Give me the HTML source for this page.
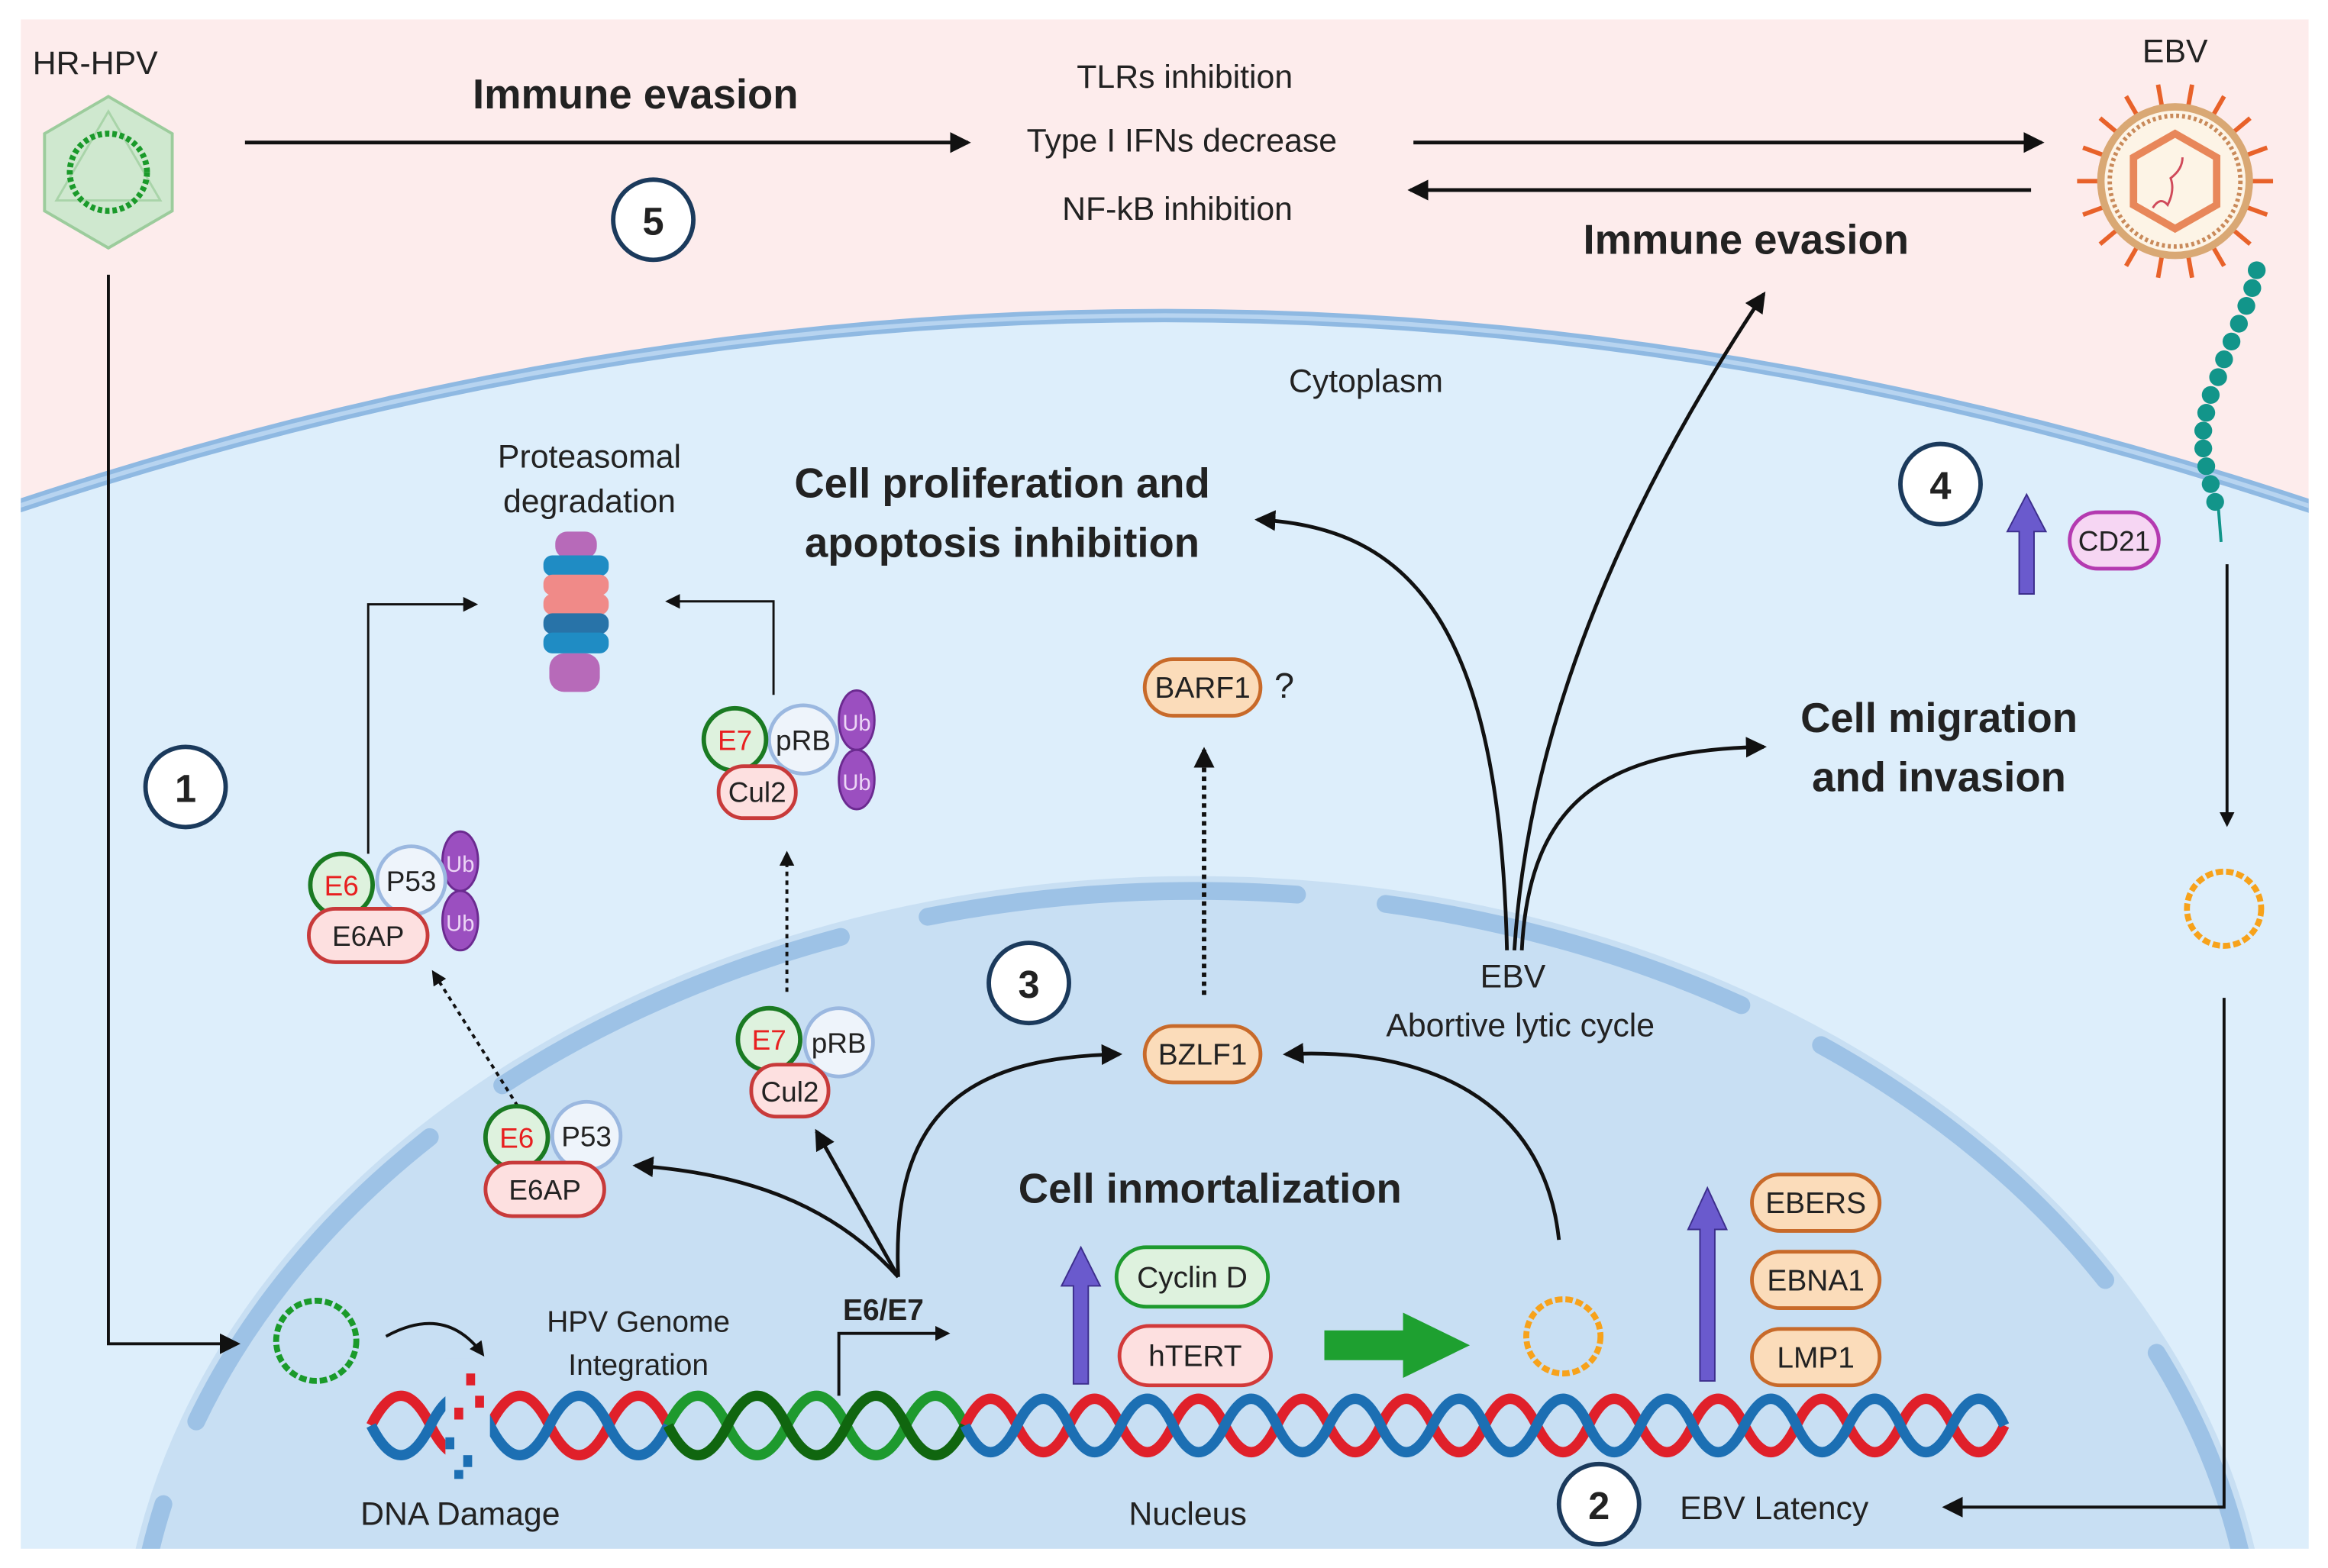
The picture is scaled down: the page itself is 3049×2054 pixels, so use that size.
<!DOCTYPE html>
<html><head><meta charset="utf-8"><style>
html,body{margin:0;padding:0;background:#fff;width:3049px;height:2054px;overflow:hidden}
svg{display:block}
text{font-family:"Liberation Sans",sans-serif;fill:#222}
.b{font-weight:bold}
</style></head><body>
<svg width="3049" height="2054" viewBox="0 0 1568 1056" preserveAspectRatio="none" xmlns="http://www.w3.org/2000/svg">
<defs>
<marker id="ah" markerWidth="10" markerHeight="10" refX="8" refY="5" orient="auto" markerUnits="userSpaceOnUse" viewBox="0 0 10 10"><path d="M0,0 L10,5 L0,10 z" fill="#111"/></marker>
<marker id="ahs" markerWidth="14" markerHeight="14" refX="12" refY="7" orient="auto" markerUnits="userSpaceOnUse" viewBox="0 0 14 14"><path d="M0,0 L14,7 L0,14 z" fill="#111"/></marker>
<clipPath id="cl"><rect x="14" y="13" width="1541" height="1030"/></clipPath>
</defs>
<rect width="1568" height="1056" fill="#fff"/>
<g clip-path="url(#cl)">
<rect x="14" y="13" width="1541" height="1030" fill="#fdecec"/>
<path d="M0,345 Q785,80 1568,345 L1568,1056 L0,1056 z" fill="#ddeefb"/>
<path d="M0,345 Q785,80 1568,345" fill="none" stroke="#8fb9e2" stroke-width="9"/>
<path d="M0,345 Q785,80 1568,345" fill="none" stroke="#b7d4f0" stroke-width="3"/>
<ellipse cx="805" cy="1140" rx="725" ry="550" fill="#c8dff3"/>
<ellipse cx="805" cy="1140" rx="715" ry="540" fill="none" stroke="#9dc2e6" stroke-width="12" stroke-linecap="round" stroke-dasharray="250 60"/>
</g>
<text x="22" y="50" font-size="22">HR-HPV</text>
<polygon points="73,65 116,90 116,142 73,167 30,142 30,90" fill="#cfe8cf" stroke="#9ccc9c" stroke-width="2"/>
<polygon points="73,75 108,135 38,135" fill="none" stroke="#a9d4a9" stroke-width="1.5"/>
<circle cx="73" cy="116" r="26" fill="none" stroke="#1a9a2a" stroke-width="4" stroke-dasharray="3 2"/>
<text x="428" y="73" font-size="28" class="b" text-anchor="middle">Immune evasion</text>
<line x1="165" y1="96" x2="652" y2="96" stroke="#111" stroke-width="2.5" marker-end="url(#ahs)"/>
<text x="798" y="59" font-size="22" text-anchor="middle">TLRs inhibition</text>
<text x="796" y="102" font-size="22" text-anchor="middle">Type I IFNs decrease</text>
<text x="793" y="148" font-size="22" text-anchor="middle">NF-kB inhibition</text>
<line x1="952" y1="96" x2="1375" y2="96" stroke="#111" stroke-width="2.5" marker-end="url(#ahs)"/>
<line x1="1368" y1="128" x2="950" y2="128" stroke="#111" stroke-width="2.5" marker-end="url(#ahs)"/>
<text x="1176" y="171" font-size="28" class="b" text-anchor="middle">Immune evasion</text>
<circle cx="440" cy="148" r="27" fill="#fff" stroke="#1b3a5c" stroke-width="3"/>
<text x="440" y="158" font-size="26" class="b" text-anchor="middle">5</text>
<text x="1465" y="42" font-size="22" text-anchor="middle">EBV</text>
<g transform="translate(1465,122)">
<g stroke="#e8622a" stroke-width="3">
<line x1="0" y1="0" x2="0" y2="-66" transform="rotate(10)"/><line x1="0" y1="0" x2="0" y2="-66" transform="rotate(30)"/><line x1="0" y1="0" x2="0" y2="-66" transform="rotate(50)"/><line x1="0" y1="0" x2="0" y2="-66" transform="rotate(70)"/><line x1="0" y1="0" x2="0" y2="-66" transform="rotate(90)"/><line x1="0" y1="0" x2="0" y2="-66" transform="rotate(110)"/><line x1="0" y1="0" x2="0" y2="-66" transform="rotate(130)"/><line x1="0" y1="0" x2="0" y2="-66" transform="rotate(150)"/><line x1="0" y1="0" x2="0" y2="-66" transform="rotate(170)"/><line x1="0" y1="0" x2="0" y2="-66" transform="rotate(190)"/><line x1="0" y1="0" x2="0" y2="-66" transform="rotate(210)"/><line x1="0" y1="0" x2="0" y2="-66" transform="rotate(230)"/><line x1="0" y1="0" x2="0" y2="-66" transform="rotate(250)"/><line x1="0" y1="0" x2="0" y2="-66" transform="rotate(270)"/><line x1="0" y1="0" x2="0" y2="-66" transform="rotate(290)"/><line x1="0" y1="0" x2="0" y2="-66" transform="rotate(310)"/><line x1="0" y1="0" x2="0" y2="-66" transform="rotate(330)"/><line x1="0" y1="0" x2="0" y2="-66" transform="rotate(350)"/>
</g>
<circle r="50" fill="#fdf4e6" stroke="#d9a874" stroke-width="5"/>
<circle r="44" fill="none" stroke="#c98a5a" stroke-width="3" stroke-dasharray="2 2"/>
<polygon points="0,-32 28,-16 28,16 0,32 -28,16 -28,-16" fill="none" stroke="#e8875a" stroke-width="5"/>
<path d="M-15,18 q5,-8 10,-2 q5,-10 2,-18 q8,-6 8,-14" fill="none" stroke="#d04a5a" stroke-width="1.5"/>
</g>
<g fill="#12958a">
<circle cx="1520" cy="182" r="6"/><circle cx="1517" cy="194" r="6"/><circle cx="1513" cy="206" r="6"/><circle cx="1508" cy="218" r="6"/><circle cx="1503" cy="230" r="6"/><circle cx="1498" cy="242" r="6"/><circle cx="1494" cy="254" r="6"/><circle cx="1489" cy="266" r="6"/><circle cx="1486" cy="278" r="6"/><circle cx="1484" cy="290" r="6"/><circle cx="1484" cy="302" r="6"/><circle cx="1486" cy="314" r="6"/><circle cx="1489" cy="326" r="6"/><circle cx="1492" cy="338" r="6"/>
</g>
<line x1="1494" y1="340" x2="1496" y2="365" stroke="#12958a" stroke-width="2"/>
<text x="920" y="264" font-size="22" text-anchor="middle">Cytoplasm</text>
<text x="397" y="315" font-size="22" text-anchor="middle">Proteasomal</text>
<text x="397" y="345" font-size="22" text-anchor="middle">degradation</text>
<g>
<rect x="374" y="358" width="28" height="18" rx="8" fill="#b76ab9"/>
<rect x="366" y="374" width="44" height="14" rx="6" fill="#1f8cc4"/>
<rect x="366" y="387" width="44" height="14" rx="6" fill="#f08a88"/>
<rect x="366" y="400" width="44" height="14" rx="6" fill="#f08a88"/>
<rect x="366" y="413" width="44" height="14" rx="6" fill="#2873a8"/>
<rect x="366" y="426" width="44" height="14" rx="6" fill="#1f8cc4"/>
<rect x="370" y="440" width="34" height="26" rx="10" fill="#b76ab9"/>
</g>
<text x="675" y="335" font-size="28" class="b" text-anchor="middle">Cell proliferation and</text>
<text x="675" y="375" font-size="28" class="b" text-anchor="middle">apoptosis inhibition</text>
<circle cx="1307" cy="326" r="27" fill="#fff" stroke="#1b3a5c" stroke-width="3"/>
<text x="1307" y="336" font-size="26" class="b" text-anchor="middle">4</text>
<polygon points="1365,333 1378,358 1370,358 1370,400 1360,400 1360,358 1352,358" fill="#6a5acd" stroke="#3c2e8c" stroke-width="1"/>
<rect x="1394" y="345" width="60" height="38" rx="19" fill="#f6d6f3" stroke="#b43ab0" stroke-width="2.5"/>
<text x="1424" y="371" font-size="19" text-anchor="middle">CD21</text>
<line x1="1500" y1="380" x2="1500" y2="555" stroke="#111" stroke-width="2" marker-end="url(#ah)"/>
<circle cx="1498" cy="612" r="25" fill="none" stroke="#f7a21b" stroke-width="4" stroke-dasharray="5 2"/>
<polyline points="1498,672 1498,1015 1310,1015" fill="none" stroke="#111" stroke-width="2" marker-end="url(#ahs)"/>
<circle cx="1077" cy="1013" r="27" fill="#fff" stroke="#1b3a5c" stroke-width="3"/>
<text x="1077" y="1023" font-size="26" class="b" text-anchor="middle">2</text>
<text x="1195" y="1023" font-size="22" text-anchor="middle">EBV Latency</text>
<circle cx="125" cy="530" r="27" fill="#fff" stroke="#1b3a5c" stroke-width="3"/>
<text x="125" y="540" font-size="26" class="b" text-anchor="middle">1</text>
<polyline points="73,185 73,905 160,905" fill="none" stroke="#111" stroke-width="2" marker-end="url(#ahs)"/>
<circle cx="213" cy="903" r="27" fill="none" stroke="#1a9a2a" stroke-width="4" stroke-dasharray="5 2"/>
<path d="M260,900 Q300,878 325,912" fill="none" stroke="#111" stroke-width="2" marker-end="url(#ah)"/>
<text x="430" y="897" font-size="20" text-anchor="middle">HPV Genome</text>
<text x="430" y="926" font-size="20" text-anchor="middle">Integration</text>
<text x="310" y="1027" font-size="22" text-anchor="middle">DNA Damage</text>
<text x="800" y="1027" font-size="22" text-anchor="middle">Nucleus</text>
<g fill="none" stroke-width="7">
<path d="M250,960 q20,-40 40,0 t40,0 t40,0 t40,0 t40,0" stroke="#e0202a"/>
<path d="M250,960 q20,40 40,0 t40,0 t40,0 t40,0 t40,0" stroke="#1c6fb3"/>
<path d="M450,960 q20,-40 40,0 t40,0 t40,0 t40,0 t40,0" stroke="#1e9a2e"/>
<path d="M450,960 q20,40 40,0 t40,0 t40,0 t40,0 t40,0" stroke="#10660f"/>
<path d="M650,960 q17,-36 35,0 t35,0 t35,0 t35,0 t35,0 t35,0 t35,0 t35,0 t35,0 t35,0 t35,0 t35,0 t35,0 t35,0 t35,0 t35,0 t35,0 t35,0 t35,0 t35,0" stroke="#e0202a"/>
<path d="M650,960 q17,36 35,0 t35,0 t35,0 t35,0 t35,0 t35,0 t35,0 t35,0 t35,0 t35,0 t35,0 t35,0 t35,0 t35,0 t35,0 t35,0 t35,0 t35,0 t35,0 t35,0" stroke="#1c6fb3"/>
</g>
<rect x="300" y="915" width="30" height="80" fill="#c8dff3"/>
<g fill="#e0202a"><rect x="314" y="925" width="6" height="8"/><rect x="320" y="940" width="6" height="8"/><rect x="306" y="948" width="6" height="8"/></g>
<g fill="#1c6fb3"><rect x="300" y="968" width="6" height="8"/><rect x="312" y="980" width="6" height="8"/><rect x="306" y="990" width="6" height="6"/></g>
<polyline points="565,940 565,898 638,898" fill="none" stroke="#111" stroke-width="2" marker-end="url(#ah)"/>
<text x="595" y="889" font-size="20" class="b" text-anchor="middle">E6/E7</text>
<text x="815" y="810" font-size="28" class="b" text-anchor="middle">Cell inmortalization</text>
<polygon points="728,840 741,866 733,866 733,932 723,932 723,866 715,866" fill="#6a5acd" stroke="#3c2e8c" stroke-width="1"/>
<rect x="752" y="840" width="102" height="40" rx="20" fill="#def2de" stroke="#1e9a2e" stroke-width="2.5"/>
<text x="803" y="867" font-size="20" text-anchor="middle">Cyclin D</text>
<rect x="754" y="893" width="102" height="40" rx="20" fill="#fde0e0" stroke="#d23a3a" stroke-width="2.5"/>
<text x="805" y="920" font-size="20" text-anchor="middle">hTERT</text>
<polygon points="892,896 945,896 945,884 990,906 945,928 945,916 892,916" fill="#1ea030"/>
<circle cx="1053" cy="900" r="25" fill="none" stroke="#f7a21b" stroke-width="4" stroke-dasharray="5 2"/>
<polygon points="1150,800 1163,828 1155,828 1155,930 1145,930 1145,828 1137,828" fill="#6a5acd" stroke="#3c2e8c" stroke-width="1"/>
<rect x="1180" y="791" width="86" height="38" rx="19" fill="#fbdcba" stroke="#c86a2a" stroke-width="2.5"/>
<text x="1223" y="817" font-size="20" text-anchor="middle">EBERS</text>
<rect x="1180" y="843" width="86" height="38" rx="19" fill="#fbdcba" stroke="#c86a2a" stroke-width="2.5"/>
<text x="1223" y="869" font-size="20" text-anchor="middle">EBNA1</text>
<rect x="1180" y="895" width="86" height="38" rx="19" fill="#fbdcba" stroke="#c86a2a" stroke-width="2.5"/>
<text x="1223" y="921" font-size="20" text-anchor="middle">LMP1</text>
<rect x="771" y="691" width="78" height="38" rx="19" fill="#fbdcba" stroke="#c86a2a" stroke-width="2.5"/>
<text x="810" y="717" font-size="20" text-anchor="middle">BZLF1</text>
<line x1="811" y1="670" x2="811" y2="505" stroke="#111" stroke-width="3" stroke-dasharray="3 3" marker-end="url(#ahs)"/>
<rect x="771" y="444" width="78" height="38" rx="19" fill="#fbdcba" stroke="#c86a2a" stroke-width="2.5"/>
<text x="810" y="470" font-size="20" text-anchor="middle">BARF1</text>
<text x="865" y="470" font-size="24" text-anchor="middle">?</text>
<circle cx="693" cy="662" r="27" fill="#fff" stroke="#1b3a5c" stroke-width="3"/>
<text x="693" y="672" font-size="26" class="b" text-anchor="middle">3</text>
<text x="1019" y="665" font-size="22" text-anchor="middle">EBV</text>
<text x="1024" y="698" font-size="22" text-anchor="middle">Abortive lytic cycle</text>
<g fill="none" stroke="#111" stroke-width="2.5">
<path d="M1015,640 C1010,420 950,355 847,350" marker-end="url(#ahs)"/>
<path d="M1020,640 C1030,480 1100,330 1188,198" marker-end="url(#ahs)"/>
<path d="M1025,640 C1030,540 1080,505 1188,503" marker-end="url(#ahs)"/>
<path d="M1050,835 C1040,740 960,705 866,710" marker-end="url(#ahs)"/>
<path d="M605,860 C600,750 650,712 754,710" marker-end="url(#ahs)"/>
<path d="M605,860 C560,810 500,790 428,785" marker-end="url(#ahs)"/>
<path d="M605,860 L550,762" marker-end="url(#ahs)"/>
</g>
<text x="1306" y="493" font-size="28" class="b" text-anchor="middle">Cell migration</text>
<text x="1306" y="533" font-size="28" class="b" text-anchor="middle">and invasion</text>
<line x1="355" y1="755" x2="292" y2="655" stroke="#111" stroke-width="2" stroke-dasharray="3 3" marker-end="url(#ah)"/>
<line x1="530" y1="668" x2="530" y2="575" stroke="#111" stroke-width="2" stroke-dasharray="3 3" marker-end="url(#ah)"/>
<polyline points="248,575 248,407 320,407" fill="none" stroke="#111" stroke-width="1.5" marker-end="url(#ah)"/>
<polyline points="521,468 521,405 450,405" fill="none" stroke="#111" stroke-width="1.5" marker-end="url(#ah)"/>
<g font-size="19">
<ellipse cx="310" cy="580" rx="12" ry="20" fill="#9b4fc0" stroke="#6b2a90" stroke-width="1.5"/>
<ellipse cx="310" cy="620" rx="12" ry="20" fill="#9b4fc0" stroke="#6b2a90" stroke-width="1.5"/>
<text x="310" y="587" font-size="15" text-anchor="middle" style="fill:#ecd6f6">Ub</text>
<text x="310" y="627" font-size="15" text-anchor="middle" style="fill:#ecd6f6">Ub</text>
<circle cx="277" cy="593" r="23" fill="#eef4fb" stroke="#9bb8e0" stroke-width="2.5"/>
<text x="277" y="600" text-anchor="middle">P53</text>
<circle cx="230" cy="596" r="21" fill="#def2de" stroke="#1a7a22" stroke-width="3"/>
<text x="230" y="603" text-anchor="middle" style="fill:#e82020">E6</text>
<rect x="208" y="612" width="80" height="36" rx="18" fill="#fde0e0" stroke="#c83a3a" stroke-width="2.5"/>
<text x="248" y="637" text-anchor="middle">E6AP</text>
<circle cx="395" cy="765" r="23" fill="#eef4fb" stroke="#9bb8e0" stroke-width="2.5"/>
<text x="395" y="772" text-anchor="middle">P53</text>
<circle cx="348" cy="766" r="21" fill="#def2de" stroke="#1a7a22" stroke-width="3"/>
<text x="348" y="773" text-anchor="middle" style="fill:#e82020">E6</text>
<rect x="327" y="783" width="80" height="36" rx="18" fill="#fde0e0" stroke="#c83a3a" stroke-width="2.5"/>
<text x="367" y="808" text-anchor="middle">E6AP</text>
<ellipse cx="577" cy="485" rx="12" ry="20" fill="#9b4fc0" stroke="#6b2a90" stroke-width="1.5"/>
<ellipse cx="577" cy="525" rx="12" ry="20" fill="#9b4fc0" stroke="#6b2a90" stroke-width="1.5"/>
<text x="577" y="492" font-size="15" text-anchor="middle" style="fill:#ecd6f6">Ub</text>
<text x="577" y="532" font-size="15" text-anchor="middle" style="fill:#ecd6f6">Ub</text>
<circle cx="541" cy="498" r="23" fill="#eef4fb" stroke="#9bb8e0" stroke-width="2.5"/>
<text x="541" y="505" text-anchor="middle">pRB</text>
<circle cx="495" cy="498" r="21" fill="#def2de" stroke="#1a7a22" stroke-width="3"/>
<text x="495" y="505" text-anchor="middle" style="fill:#e82020">E7</text>
<rect x="484" y="516" width="52" height="35" rx="17" fill="#fde0e0" stroke="#c83a3a" stroke-width="2.5"/>
<text x="510" y="540" text-anchor="middle">Cul2</text>
<circle cx="565" cy="702" r="23" fill="#eef4fb" stroke="#9bb8e0" stroke-width="2.5"/>
<text x="565" y="709" text-anchor="middle">pRB</text>
<circle cx="518" cy="700" r="21" fill="#def2de" stroke="#1a7a22" stroke-width="3"/>
<text x="518" y="707" text-anchor="middle" style="fill:#e82020">E7</text>
<rect x="506" y="717" width="52" height="35" rx="17" fill="#fde0e0" stroke="#c83a3a" stroke-width="2.5"/>
<text x="532" y="742" text-anchor="middle">Cul2</text>
</g>
</svg>
</body></html>
